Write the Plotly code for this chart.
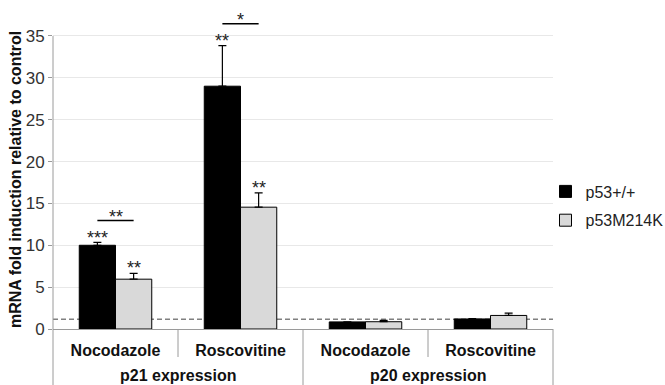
import plotly.graph_objects as go

# ---- data ----
groups = ["p21 expression", "p20 expression"]
drugs = ["Nocodazole", "Roscovitine", "Nocodazole", "Roscovitine"]
positions = [0, 1, 2, 3]
series_names = ["p53+/+", "p53M214K"]
wt_values = [10.0, 29.0, 0.85, 1.2]
wt_errors = [0.35, 4.85, 0.0, 0.05]
mut_values = [5.95, 14.55, 0.87, 1.62]
mut_errors = [0.7, 1.7, 0.15, 0.28]
wt_sig = ["***", "**", "", ""]
mut_sig = ["**", "**", "", ""]
pair_sig = ["**", "*", "", ""]
baseline = 1.15
y_ticks = [0, 5, 10, 15, 20, 25, 30, 35]

FONT = "Liberation Sans, Arial, sans-serif"
GREY = "#9a9a9a"
BARGAP = 0.42
bar_w = (1 - BARGAP) / 2
Y_TOP = 38.46
L, R, T, B, W, H = 53, 112, 7, 56, 665, 385
PH = H - T - B  # plot height px


def py(px_from_axis):
    """pixel offset below the x axis -> paper y"""
    return -px_from_axis / PH


fig = go.Figure()
fig.add_trace(go.Bar(
    x=positions, y=wt_values, name=series_names[0],
    marker=dict(color="#000000", line=dict(color="#000000", width=1)),
    error_y=dict(type="data", array=wt_errors, arrayminus=[0] * 4, symmetric=False,
                 color="#000000", thickness=1.2, width=4),
    legendgroup="a",
))
fig.add_trace(go.Bar(
    x=positions, y=mut_values, name=series_names[1],
    marker=dict(color="#d9d9d9", line=dict(color="#000000", width=1)),
    error_y=dict(type="data", array=mut_errors, arrayminus=[0] * 4, symmetric=False,
                 color="#000000", thickness=1.2, width=4),
    legendgroup="b",
))

annotations = []
shapes = []
star_font = dict(family=FONT, size=18, color="#222222")
for i in range(len(drugs)):
    wt_top = wt_values[i] + wt_errors[i]
    mut_top = mut_values[i] + mut_errors[i]
    if wt_sig[i]:
        annotations.append(dict(x=i - bar_w / 2, y=wt_top + 0.55, xref="x", yref="y",
                                text=wt_sig[i], showarrow=False, font=star_font,
                                yanchor="middle"))
    if mut_sig[i]:
        annotations.append(dict(x=i + bar_w / 2, y=mut_top + 0.6, xref="x", yref="y",
                                text=mut_sig[i], showarrow=False, font=star_font,
                                yanchor="middle"))
    if pair_sig[i]:
        yb = max(wt_top, mut_top) + 2.6
        shapes.append(dict(type="line", xref="x", yref="y", x0=i - bar_w / 2, x1=i + bar_w / 2,
                           y0=yb, y1=yb, line=dict(color="#000000", width=1.5)))
        annotations.append(dict(x=i, y=yb + 0.45, xref="x", yref="y", text=pair_sig[i],
                                showarrow=False, font=star_font, yanchor="middle"))

# dashed control line
shapes.append(dict(type="line", xref="paper", yref="y", x0=0, x1=1, y0=baseline, y1=baseline,
                   line=dict(color="#808080", width=1.5, dash="5px,3px"), layer="below"))
# y axis line extended down through label area
shapes.append(dict(type="line", xref="paper", yref="paper", x0=0, x1=0, y0=py(60), y1=35 / Y_TOP,
                   line=dict(color=GREY, width=1)))
# outer group dividers
for xv in [0.5, 1.0]:
    shapes.append(dict(type="line", xref="paper", yref="paper", x0=xv, x1=xv, y0=0, y1=py(60),
                       line=dict(color=GREY, width=1)))
# inner category dividers
for xv in [0.25, 0.75]:
    shapes.append(dict(type="line", xref="paper", yref="paper", x0=xv, x1=xv, y0=0, y1=py(28),
                       line=dict(color=GREY, width=1)))

# group labels
for gi, g in enumerate(groups):
    annotations.append(dict(x=2 * gi + 0.5, y=py(46), xref="x", yref="paper", text=g,
                            showarrow=False, xanchor="center", yanchor="middle",
                            font=dict(family=FONT, size=16, color="#111111", weight="bold")))

# y-axis title
annotations.append(dict(x=(15 - L) / (W - L - R), y=(329 - 180) / PH, xref="paper", yref="paper",
                        text="mRNA fold induction relative to control",
                        showarrow=False, textangle=-90, xanchor="center", yanchor="middle",
                        font=dict(family=FONT, size=16, color="#111111", weight="bold")))

fig.update_layout(
    width=W, height=H,
    margin=dict(l=L, r=R, t=T, b=B, autoexpand=False),
    plot_bgcolor="white", paper_bgcolor="white",
    barmode="group", bargap=BARGAP, bargroupgap=0,
    font=dict(family=FONT, color="#222222"),
    showlegend=True,
    legend=dict(x=0.985, xanchor="left", y=0.382, yanchor="middle",
                font=dict(family=FONT, size=16, color="#222222"),
                tracegroupgap=5, bgcolor="rgba(0,0,0,0)"),
    shapes=shapes, annotations=annotations,
)
fig.update_xaxes(
    range=[-0.5, 3.5], tickvals=positions, ticktext=drugs,
    showline=True, linecolor=GREY, linewidth=1, ticks="", showgrid=False, zeroline=False,
    tickfont=dict(family=FONT, size=16, color="#111111", weight="bold"),
    ticklabelstandoff=7,
)
fig.update_yaxes(
    range=[0, Y_TOP], tickvals=y_ticks, ticks="outside", ticklen=4, tickcolor=GREY,
    showline=False, showgrid=True, gridcolor="#e8e8e8", gridwidth=1, zeroline=False,
    tickfont=dict(family=FONT, size=17, color="#333333"),
)
fig.write_html("out.html", config={"displayModeBar": False},
               post_script="document.body.style.margin='0';")
